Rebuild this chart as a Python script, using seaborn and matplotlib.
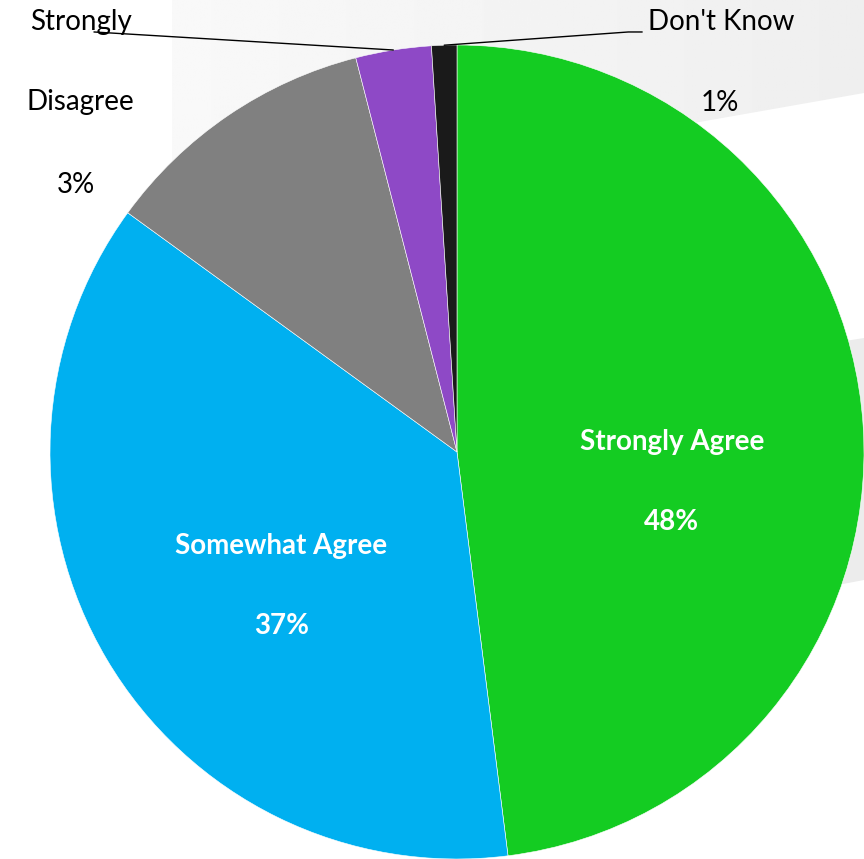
import numpy as np
import matplotlib
matplotlib.use("Agg")
import matplotlib.pyplot as plt
from matplotlib.patches import Polygon
import seaborn as sns

# data
categories = ["Strongly Agree", "Somewhat Agree", "Somewhat Disagree", "Strongly Disagree", "Don't Know"]
values = [48, 37, 11, 3, 1]
pct_labels = ["48%", "37%", "", "3%", "1%"]
colors = ["#14CC22", "#00B0F0", "#808080", "#8E49C6", "#1A1A1A"]

sns.set_theme(style="white")
plt.rcParams["font.family"] = ["Lato", "DejaVu Sans"]

W, H = 864, 859
fig = plt.figure(figsize=(W / 100, H / 100), dpi=100)
fig.patch.set_facecolor("white")

# background decoration (slide shapes)
bg = fig.add_axes([0, 0, 1, 1], zorder=0)
bg.set_xlim(0, W)
bg.set_ylim(H, 0)
bg.axis("off")
top_band = Polygon([(172, 0), (W, 0), (W, 93), (172, 215)], closed=True,
                   facecolor="none", edgecolor="none")
bg.add_patch(top_band)
grad = np.linspace(0.975, 0.935, 256).reshape(1, -1)
im = bg.imshow(grad, extent=(172, W, 215, 0), cmap="gray", vmin=0, vmax=1,
               aspect="auto")
im.set_clip_path(top_band)
bg.add_patch(Polygon([(600, 380), (W, 338), (W, 580), (600, 630)], closed=True,
                     facecolor="#ececec", edgecolor="none"))
bg.set_xlim(0, W)
bg.set_ylim(H, 0)

# pie
cx, cy, r = 457, 452, 407
ax = fig.add_axes([(cx - r) / W, (H - cy - r) / H, 2 * r / W, 2 * r / H], zorder=1)
pal = sns.color_palette(colors)
wedges, _ = ax.pie(values, colors=pal, startangle=90, counterclock=False, radius=1,
                   wedgeprops=dict(edgecolor="white", linewidth=0.4))
ax.set_xlim(-1, 1)
ax.set_ylim(-1, 1)
ax.set_aspect("equal")
ax.axis("off")

fs = 20
# inside labels
ax.text(0.528, 0.025, categories[0], color="white", fontsize=fs, fontweight="bold",
        ha="center", va="center")
ax.text(0.528, -0.172, pct_labels[0], color="white", fontsize=fs, fontweight="bold",
        ha="center", va="center")
ax.text(-0.432, -0.231, categories[1], color="white", fontsize=fs, fontweight="bold",
        ha="center", va="center")
ax.text(-0.432, -0.428, pct_labels[1], color="white", fontsize=fs, fontweight="bold",
        ha="center", va="center")

# outside labels
def edge_point(i):
    start = sum(values[:i])
    mid = (start + values[i] / 2) / sum(values) * 2 * np.pi
    return np.sin(mid), np.cos(mid)

out_kw = dict(fontsize=fs, color="black", ha="center", va="center", clip_on=False)
ax.text(-0.925, 1.057, "Strongly", **out_kw)
ax.text(-0.925, 0.860, "Disagree", **out_kw)
ax.text(-0.935, 0.656, pct_labels[3], **out_kw)
ax.text(0.649, 1.057, categories[4], **out_kw)
ax.text(0.645, 0.857, pct_labels[4], **out_kw)

px, py = edge_point(3)
ax.plot([-0.892, px], [1.032, py], color="black", lw=1, clip_on=False)
kx, ky = edge_point(4)
ax.plot([0.455, 0.421, kx], [1.032, 1.032, ky], color="black", lw=1, clip_on=False)

fig.savefig("out.png", dpi=100)
